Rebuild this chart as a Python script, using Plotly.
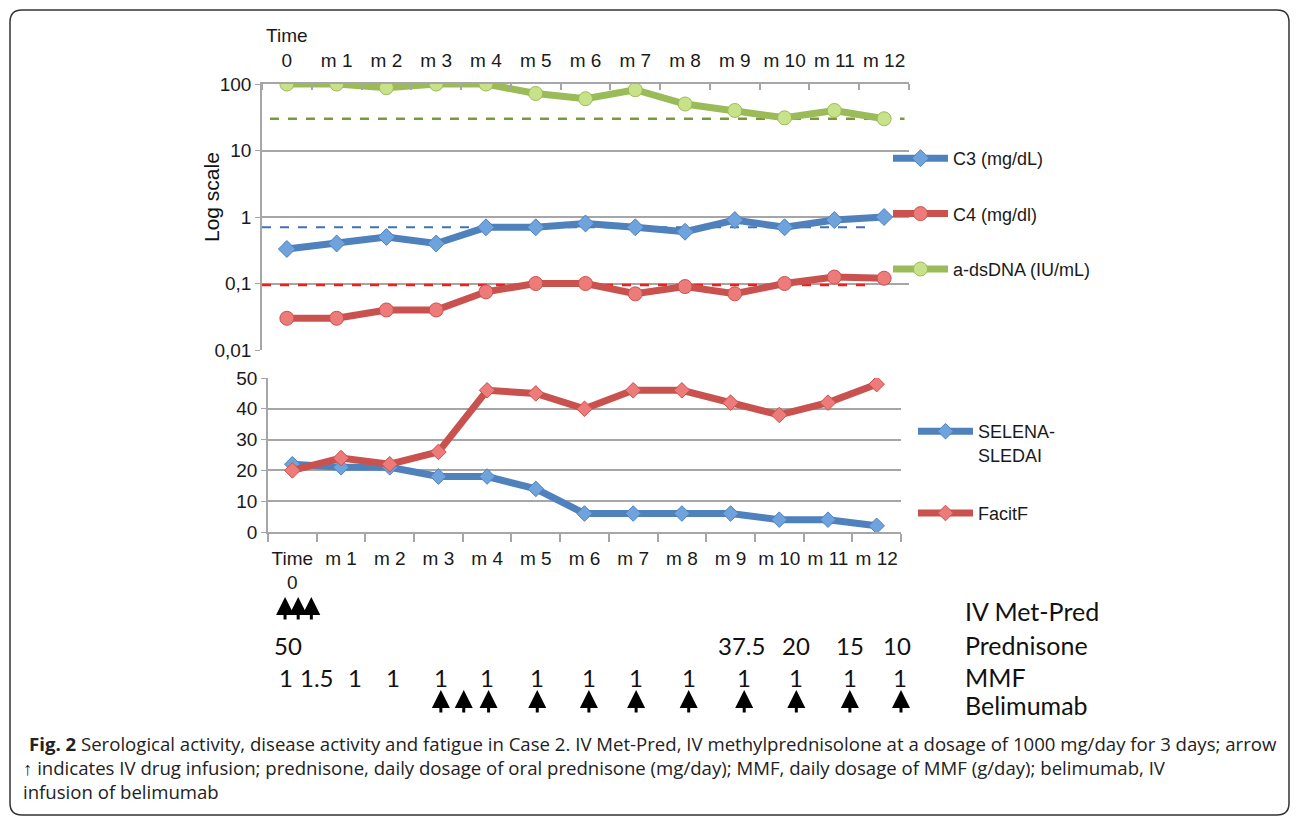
import plotly.graph_objects as go

# ---------------- data ----------------
month_labels_top = ["Time<br>0", "m 1", "m 2", "m 3", "m 4", "m 5", "m 6", "m 7", "m 8", "m 9", "m 10", "m 11", "m 12"]
month_labels_bottom = ["Time<br>0", "m 1", "m 2", "m 3", "m 4", "m 5", "m 6", "m 7", "m 8", "m 9", "m 10", "m 11", "m 12"]
month_index = list(range(13))

c3 = [0.33, 0.40, 0.50, 0.40, 0.70, 0.70, 0.80, 0.70, 0.60, 0.90, 0.70, 0.90, 1.00]
c4 = [0.030, 0.030, 0.040, 0.040, 0.075, 0.100, 0.100, 0.070, 0.090, 0.070, 0.100, 0.125, 0.120]
dsdna = [100, 100, 88, 100, 100, 72, 60, 82, 50, 40, 31, 40, 30]

c3_normal = 0.7
c4_normal = 0.095
dsdna_normal = 30
c3_normal_span = [-0.5, 11.77]
c4_normal_span = [-0.5, 11.77]
dsdna_normal_span = [-0.34, 12.41]

selena = [22, 21, 21, 18, 18, 14, 6, 6, 6, 6, 4, 4, 2]
facit = [20, 24, 22, 26, 46, 45, 40, 46, 46, 42, 38, 42, 48]

log_tickvals = [0.01, 0.1, 1, 10, 100]
log_ticktext = ["0,01", "0,1", "1", "10", "100"]

# treatment timeline (in months)
ivmp_times = [-0.15, 0.12, 0.39]
pred_times = [-0.08, 9.22, 10.35, 11.45, 12.41]
pred_doses = ["50", "37.5", "20", "15", "10"]
mmf_times = [-0.14, 0.51, 1.29, 2.07, 3.05, 4.0, 5.03, 6.09, 7.06, 8.14, 9.28, 10.35, 11.45, 12.47]
mmf_doses = ["1", "1.5", "1", "1", "1", "1", "1", "1", "1", "1", "1", "1", "1", "1"]
belim_times = [3.05, 3.52, 4.03, 5.03, 6.09, 7.06, 8.14, 9.28, 10.35, 11.45, 12.5]
row_labels = ["IV Met-Pred", "Prednisone", "MMF", "Belimumab"]

caption_lines = [
    "<b>Fig. 2</b> Serological activity, disease activity and fatigue in Case 2. IV Met-Pred, IV methylprednisolone at a dosage of 1000 mg/day for 3 days; arrow",
    "↑ indicates IV drug infusion; prednisone, daily dosage of oral prednisone (mg/day); MMF, daily dosage of MMF (g/day); belimumab, IV",
    "infusion of belimumab",
]

# ---------------- style ----------------
W, H = 1296, 822
def px_x(p): return p / W
def px_y(p): return 1 - p / H

BLUE = "#4F81BD"
BLUE_M = "#6FA3DE"
RED = "#C9524F"
RED_M = "#EC7B79"
GREEN = "#9BBB59"
GREEN_M = "#C8E28A"
GRID = "#A6A6A6"
AXFONT = dict(family="Liberation Sans, Arial, sans-serif", size=19, color="#1a1a1a")
LEGFONT = dict(family="Liberation Sans, Arial, sans-serif", size=18, color="#1a1a1a")
ROWFONT = dict(family="Lato, Open Sans, sans-serif", size=24, color="#111111")
LABFONT = dict(family="Lato, Open Sans, sans-serif", size=25, color="#111111")

fig = go.Figure()

# normal-limit dashed lines (top chart)
for val, span, col, w in [(dsdna_normal, dsdna_normal_span, "#7A9A3A", 2.5),
                          (c3_normal, c3_normal_span, "#3F72B0", 2),
                          (c4_normal, c4_normal_span, "#E8231E", 2.5)]:
    fig.add_trace(go.Scatter(x=span, y=[val, val], mode="lines", xaxis="x", yaxis="y",
                             line=dict(color=col, width=w, dash="dash"), showlegend=False,
                             hoverinfo="skip"))

fig.add_trace(go.Scatter(x=month_index, y=c3, name="C3 (mg/dL)", mode="lines+markers",
                         xaxis="x", yaxis="y", legend="legend", legendgroup="c3",
                         line=dict(color=BLUE, width=7),
                         marker=dict(symbol="diamond", size=13, color=BLUE_M, line=dict(color=BLUE, width=1))))
fig.add_trace(go.Scatter(x=month_index, y=c4, name="C4 (mg/dl)", mode="lines+markers",
                         xaxis="x", yaxis="y", legend="legend", legendgroup="c4",
                         line=dict(color=RED, width=7),
                         marker=dict(symbol="circle", size=14, color=RED_M, line=dict(color=RED, width=1))))
fig.add_trace(go.Scatter(x=month_index, y=dsdna, name="a-dsDNA (IU/mL)", mode="lines+markers",
                         xaxis="x", yaxis="y", legend="legend", legendgroup="ds",
                         line=dict(color=GREEN, width=7),
                         marker=dict(symbol="circle", size=14, color=GREEN_M, line=dict(color=GREEN, width=1))))

fig.add_trace(go.Scatter(x=month_index, y=selena, name="SELENA-<br>SLEDAI", mode="lines+markers",
                         xaxis="x2", yaxis="y2", legend="legend2", legendgroup="sel",
                         line=dict(color=BLUE, width=7),
                         marker=dict(symbol="diamond", size=12, color=BLUE_M, line=dict(color=BLUE, width=1))))
fig.add_trace(go.Scatter(x=month_index, y=facit, name="FacitF", mode="lines+markers",
                         xaxis="x2", yaxis="y2", legend="legend2", legendgroup="fac",
                         line=dict(color=RED, width=7),
                         marker=dict(symbol="diamond", size=12, color=RED_M, line=dict(color=RED, width=1))))

boundaries = [i - 0.5 for i in range(14)]

fig.update_layout(
    width=W, height=H, margin=dict(l=0, r=0, t=0, b=0, pad=0, autoexpand=False),
    paper_bgcolor="white", plot_bgcolor="white",
    xaxis=dict(domain=[px_x(262), px_x(909)], anchor="y", side="top", range=[-0.5, 12.5],
               tickmode="array", tickvals=month_index, ticktext=month_labels_top,
               showgrid=False, showline=True, linecolor=GRID, linewidth=1.5, ticks="",
               ticklabelstandoff=8, automargin=False,
               tickfont=AXFONT, zeroline=False,
               minor=dict(tickmode="array", tickvals=boundaries, ticks="inside", ticklen=6,
                          tickcolor=GRID, tickwidth=1.5, showgrid=False)),
    yaxis=dict(domain=[px_y(350), px_y(84)], anchor="x", type="log", range=[-2, 2],
               tickmode="array", tickvals=log_tickvals, ticktext=log_ticktext,
               showgrid=True, gridcolor=GRID, gridwidth=1.5, showline=True, linecolor=GRID, linewidth=1.5,
               ticks="outside", ticklen=5, tickcolor=GRID, tickfont=AXFONT, zeroline=False,
               automargin=False),
    xaxis2=dict(domain=[px_x(268), px_x(901)], anchor="y2", range=[-0.5, 12.5],
                tickmode="array", tickvals=month_index, ticktext=month_labels_bottom,
                showgrid=False, showline=True, linecolor=GRID, linewidth=1.5, ticks="",
                ticklabelstandoff=8, automargin=False,
                tickfont=AXFONT, zeroline=False,
                minor=dict(tickmode="array", tickvals=boundaries, ticks="outside", ticklen=8,
                           tickcolor=GRID, tickwidth=1.5, showgrid=False)),
    yaxis2=dict(domain=[px_y(532), px_y(378)], anchor="x2", range=[0, 50], dtick=10,
                showgrid=True, gridcolor=GRID, gridwidth=1.5, showline=True, linecolor=GRID, linewidth=1.5,
                ticks="outside", ticklen=5, tickcolor=GRID, tickfont=AXFONT, zeroline=False,
                automargin=False),
    legend=dict(x=px_x(888), y=px_y(140), xanchor="left", yanchor="top", font=LEGFONT,
                bgcolor="rgba(0,0,0,0)", itemwidth=55, tracegroupgap=29, traceorder="grouped"),
    legend2=dict(x=px_x(913), y=px_y(413), xanchor="left", yanchor="top", font=LEGFONT,
                 bgcolor="rgba(0,0,0,0)", itemwidth=55, tracegroupgap=32, traceorder="grouped",
                 valign="top"),
    showlegend=True,
)

annotations = []
annotations.append(dict(x=px_x(211), y=px_y(197), xref="paper", yref="paper", text="Log scale",
                        textangle=-90, showarrow=False, xanchor="center", yanchor="middle",
                        font=dict(family="Liberation Sans, Arial, sans-serif", size=21, color="#111")))
# treatment rows
row_y = {"IV Met-Pred": px_y(611), "Prednisone": px_y(645), "MMF": px_y(677), "Belimumab": px_y(705)}
for lab in row_labels:
    annotations.append(dict(x=px_x(963), y=row_y[lab], xref="paper", yref="paper", text=lab,
                            showarrow=False, xanchor="left", yanchor="middle", font=LABFONT))
for t, d in zip(pred_times, pred_doses):
    annotations.append(dict(x=t, y=row_y["Prednisone"], xref="x2", yref="paper", text=d,
                            showarrow=False, xanchor="center", yanchor="middle", font=ROWFONT))
for t, d in zip(mmf_times, mmf_doses):
    annotations.append(dict(x=t, y=row_y["MMF"], xref="x2", yref="paper", text=d,
                            showarrow=False, xanchor="center", yanchor="middle", font=ROWFONT))
for t in ivmp_times:
    annotations.append(dict(x=t, y=px_y(597), xref="x2", yref="paper", ax=0, ay=24, text="",
                            showarrow=True, arrowhead=2, arrowsize=1.2, arrowwidth=3, arrowcolor="#000"))
for t in belim_times:
    annotations.append(dict(x=t, y=px_y(690), xref="x2", yref="paper", ax=0, ay=24, text="",
                            showarrow=True, arrowhead=2, arrowsize=1.2, arrowwidth=3, arrowcolor="#000"))
# caption
cap_y = [743, 767, 791]
cap_x = [27, 21, 21]
for line, yy, xx in zip(caption_lines, cap_y, cap_x):
    annotations.append(dict(x=px_x(xx), y=px_y(yy), xref="paper", yref="paper", text=line,
                            showarrow=False, xanchor="left", yanchor="middle",
                            font=dict(family="Open Sans, Noto Sans, sans-serif", size=18.6, color="#222")))
fig.update_layout(annotations=annotations)

# rounded border of figure panel
x0, x1, y0, y1 = px_x(10), px_x(1289), px_y(10), px_y(815)
rx, ry = 12 / W, 12 / H
path = (f"M {x0+rx},{y0} L {x1-rx},{y0} Q {x1},{y0} {x1},{y0-ry} L {x1},{y1+ry} "
        f"Q {x1},{y1} {x1-rx},{y1} L {x0+rx},{y1} Q {x0},{y1} {x0},{y1+ry} L {x0},{y0-ry} "
        f"Q {x0},{y0} {x0+rx},{y0} Z")
fig.add_shape(type="path", path=path, xref="paper", yref="paper", line=dict(color="#333", width=1.5))

fig.write_html("out.html", config={"displayModeBar": False},
               post_script="document.body.style.margin='0';document.body.style.overflow='hidden';")
